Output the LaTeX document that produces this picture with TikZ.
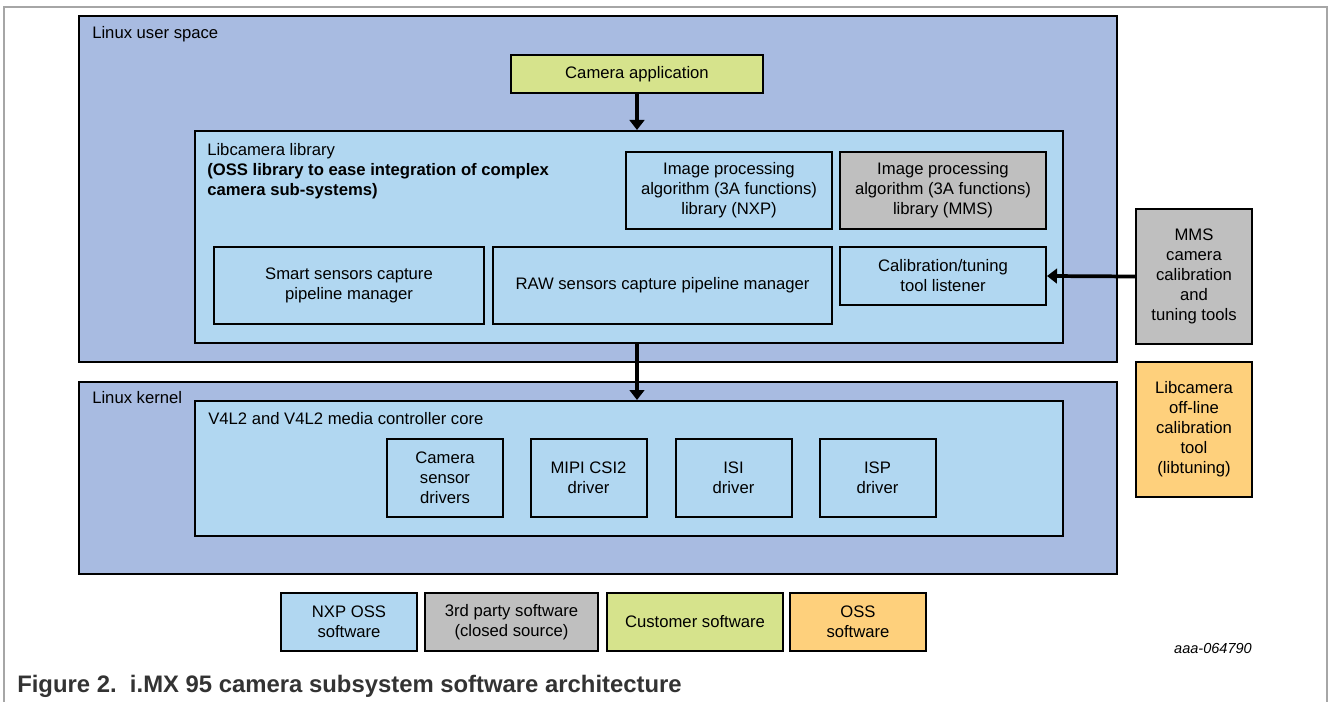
\documentclass[tikz,border=0pt]{standalone}
\usepackage{fontspec}
\setmainfont{Liberation Sans}
\usepackage{xcolor}
\definecolor{cUser}{HTML}{A8BBE1}
\definecolor{cNxp}{HTML}{B1D7F1}
\definecolor{cThird}{HTML}{BFBFBF}
\definecolor{cCust}{HTML}{D6E38C}
\definecolor{cOss}{HTML}{FED07C}
\definecolor{cFrame}{HTML}{A6A6A6}
\usetikzlibrary{positioning,arrows.meta}
\newcommand{\px}{0.75pt}
\tikzset{
  node-box/.style={draw=black,line width=1.5pt,align=center,inner sep=0pt,
    font=\fontsize{12.5}{15}\selectfont},
  node-size/.style 2 args={minimum width=#1*\px,minimum height=#2*\px},
  node-user/.style={node-box,fill=cUser,line width=1.7pt},
  node-nxp/.style={node-box,fill=cNxp},
  node-third/.style={node-box,fill=cThird},
  node-cust/.style={node-box,fill=cCust},
  node-oss/.style={node-box,fill=cOss},
  node-lbl/.style={inner sep=0pt,align=left,font=\fontsize{12.5}{15}\selectfont},
  arrow/.style={-{Triangle[length=7.5pt,width=11pt]},line width=2.8pt,draw=black},
}
\begin{document}
\begin{tikzpicture}[x=\px,y=-\px]
  \useasboundingbox (0,0) rectangle (1328,702);
  \draw[cFrame,line width=1.1pt] (4,702) -- (4,7) -- (1327,7) -- (1327,702);
  % user space
  \node[node-user,node-size={1038}{346}] (user) at (598,189) {};
  \node[node-lbl,anchor=west] (user-lbl) at (92,34) {Linux user space};
  \node[node-cust,node-size={252}{38}] (app) at (637,74) {Camera application};
  \node[node-nxp,node-size={868}{212}] (lib) at (629,237) {};
  \node[node-lbl,anchor=north west] (lib-lbl) at (207,143)
    {Libcamera library\\\textbf{(OSS library to ease integration of complex}\\
     \textbf{camera sub-systems)}};
  \node[node-nxp,node-size={206}{77}] (ipa-nxp) at (729,190.5)
    {Image processing\\algorithm (3A functions)\\library (NXP)};
  \node[node-third,node-size={206}{77}] (ipa-mms) at (943,190.5)
    {Image processing\\algorithm (3A functions)\\library (MMS)};
  \node[node-nxp,node-size={270}{77}] (smart) at (349,285.5)
    {Smart sensors capture\\pipeline manager};
  \node[node-nxp,node-size={339}{77}] (raw) at (662.5,285.5)
    {RAW sensors capture pipeline manager};
  \node[node-nxp,node-size={206}{58}] (calib) at (943,276)
    {Calibration/tuning\\tool listener};
  % kernel
  \node[node-user,node-size={1038}{192}] (kernel) at (598,478) {};
  \node[node-lbl,anchor=west] (kernel-lbl) at (92,398) {Linux kernel};
  \node[node-nxp,node-size={868}{135}] (v4l) at (629,468.5) {};
  \node[node-lbl,anchor=west] (v4l-lbl) at (208,419) {V4L2 and V4L2 media controller core};
  \node[node-nxp,node-size={116}{78}] (sensor) at (445,478) {Camera\\sensor\\drivers};
  \node[node-nxp,node-size={116}{78}] (csi) at (588.5,478) {MIPI CSI2\\driver};
  \node[node-nxp,node-size={116}{78}] (isi) at (733.5,478) {ISI\\driver};
  \node[node-nxp,node-size={116}{78}] (isp) at (877.5,478) {ISP\\driver};
  % side tools
  \node[node-third,node-size={116}{135}] (tools) at (1194,276.5)
    {MMS\\camera\\calibration\\and\\tuning tools};
  \node[node-oss,node-size={116}{135}] (offline) at (1194,429.5)
    {Libcamera\\off-line\\calibration\\tool\\(libtuning)};
  % legend
  \node[node-nxp,node-size={136}{58}] (leg-nxp) at (349,622) {NXP OSS\\software};
  \node[node-third,node-size={173}{58}] (leg-third) at (511.5,622)
    {3rd party software\\(closed source)};
  \node[node-cust,node-size={176}{58}] (leg-cust) at (695,622) {Customer software};
  \node[node-oss,node-size={136}{58}] (leg-oss) at (858,622) {OSS\\software};
  \node[inner sep=0pt,font=\fontsize{10.9}{13}\selectfont\itshape] (docid) at (1213,648) {aaa-064790};
  \node[inner sep=0pt,anchor=west,font=\fontsize{17.9}{20}\selectfont\bfseries,text=black!80]
    (caption) at (17,686) {Figure 2.\ \ i.MX 95 camera subsystem software architecture};
  % connectors
  \draw[arrow] (app.south) -- (app.south |- lib.north);
  \draw[arrow] (app.south |- lib.south) -- (app.south |- v4l.north);
  \draw[arrow] (tools.west) -- (calib.east);
\end{tikzpicture}
\end{document}
